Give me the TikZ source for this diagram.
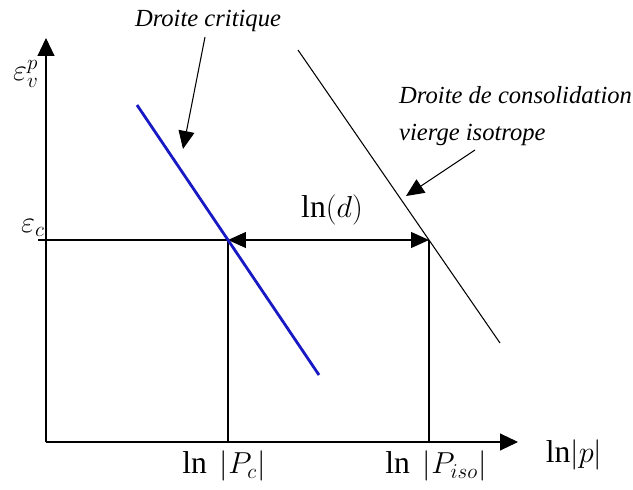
\documentclass[tikz,border=0pt]{standalone}
\usepackage{fontspec}
\setmainfont{Liberation Serif}
\usetikzlibrary{arrows.meta}
\definecolor{critblue}{RGB}{25,25,195}

\begin{document}
\begin{tikzpicture}[
    x=0.02cm, y=-0.02cm,
    axis/.style={-{Triangle[length=0.36cm, width=0.34cm]}, line width=0.6pt},
    guide/.style={line width=0.6pt},
    pointer/.style={-{Triangle[length=0.36cm, width=0.32cm]}, line width=0.6pt},
    dim/.style={{Triangle[length=0.36cm, width=0.32cm]}-{Triangle[length=0.36cm, width=0.32cm]}, line width=0.6pt},
    lbl/.style={font=\fontsize{14}{21}\selectfont\itshape},
    sym/.style={font=\fontsize{18}{21}\selectfont},
]
\useasboundingbox (0,0) rectangle (633,490);

% axes
\coordinate (origin) at (46,442);
\coordinate (y_end) at (46,38);
\coordinate (x_end) at (518,442);
\draw[axis] (origin) -- (y_end);
\draw[axis] (origin) -- (x_end);

% critical and isotropic points
\coordinate (eps_c) at (38,240);
\coordinate (pc) at (228,240);
\coordinate (piso) at (429,240);
\coordinate (pc_foot) at (228,442);
\coordinate (piso_foot) at (429,442);

\draw[guide] (eps_c) -- (pc);
\draw[guide] (pc) -- (pc_foot);
\draw[guide] (piso) -- (piso_foot);
\draw[dim] (pc) -- (piso);

% the two lines
\coordinate (crit_top) at (137,105);
\coordinate (crit_bot) at (319,375);
\coordinate (ncl_top) at (298,50);
\coordinate (ncl_bot) at (500,343);
\draw[critblue, line width=1.6pt] (crit_top) -- (crit_bot);
\draw[guide] (ncl_top) -- (ncl_bot);

% labels
\node[lbl] (crit_lbl) at (208,21) {Droite critique};
\node[lbl, align=left, anchor=west] (ncl_lbl) at (393,116) {Droite de consolidation\\vierge isotrope};
\coordinate (crit_tail) at (205,37);
\coordinate (crit_tip) at (183,149);
\coordinate (ncl_tail) at (475,150);
\coordinate (ncl_tip) at (406,196);
\draw[pointer] (crit_tail) -- (crit_tip);
\draw[pointer] (ncl_tail) -- (ncl_tip);

\node[sym] (epsv_lbl) at (26,74) {$\varepsilon_v^p$};
\node[sym] (epsc_lbl) at (33,228) {$\varepsilon_c$};
\node[sym] (lnd_lbl) at (332,210) {$\ln(d)$};
\node[sym] (pc_lbl) at (224,466) {$\ln\ \left|P_c\right|$};
\node[sym] (piso_lbl) at (436,466) {$\ln\ \left|P_{iso}\right|$};
\node[sym] (p_lbl) at (574,455) {$\mathrm{ln}\!\left|p\right|$};

\end{tikzpicture}
\end{document}
